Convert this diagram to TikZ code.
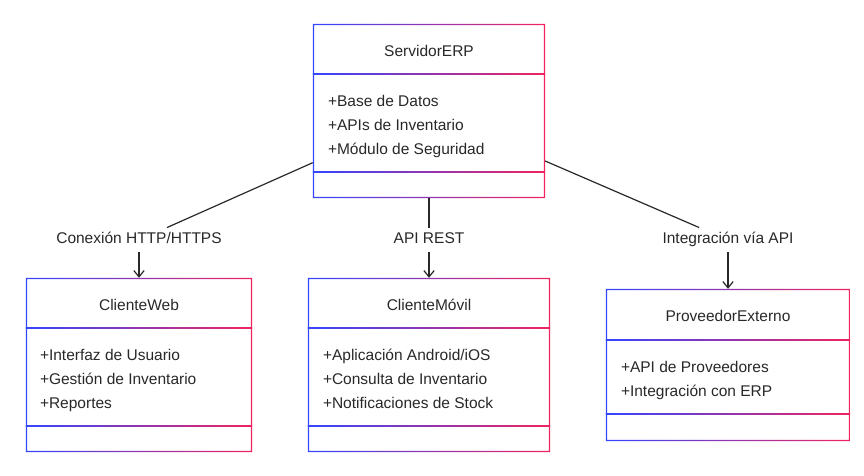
\documentclass[tikz,border=0pt]{standalone}
\usepackage{fontspec}
\setmainfont{Liberation Sans}
\usepackage{tikz}
\usetikzlibrary{arrows.meta,positioning,calc}
\definecolor{cBlue}{RGB}{51,70,255}
\definecolor{cRed}{RGB}{240,36,96}
\definecolor{cInk}{RGB}{40,40,40}
\tikzset{
  cls/.style={inner sep=0pt, minimum height=174pt},
  gframe/.style={left color=cBlue, right color=cRed, even odd rule},
  ctitle/.style={font=\fontsize{15.5}{18}\selectfont, text=cInk,
                 text height=11pt, text depth=3.5pt, inner sep=0pt},
  attr/.style={ctitle, inner ysep=4.5pt, anchor=west},
  elbl/.style={ctitle, inner xsep=1pt, inner ysep=5pt},
  link/.style={draw=cInk, line width=1.2pt},
  arr/.style={link, -{Straight Barb[length=2.2mm,width=3.6mm]}},
}

\begin{document}
\begin{tikzpicture}[x=1pt,y=1pt]
  \useasboundingbox (0,0) rectangle (864,-476);
  % class boxes
  \node[cls, minimum width=232pt] (srv) at (429,-111) {};
  \node[cls, minimum width=226pt] (web) at (139,-365) {};
  \node[cls, minimum width=242pt] (mov) at (429,-365) {};
  \node[cls, minimum width=244pt, minimum height=152pt] (ext) at (728,-365) {};
  % gradient frames, header and member separators
  \foreach \b/\hs/\cs in {srv/50/26, web/50/26, mov/50/26, ext/51/27} {
    \shade[gframe] (\b.south west) rectangle (\b.north east)
      ($(\b.south west)+(1.4,1.4)$) rectangle ($(\b.north east)+(-1.4,-1.4)$);
    \shade[gframe] ($(\b.north west)+(0,-\hs+0.7)$) rectangle ($(\b.north east)+(0,-\hs-0.7)$);
    \shade[gframe] ($(\b.south west)+(0,\cs+0.7)$) rectangle ($(\b.south east)+(0,\cs-0.7)$);
  }
  % ServidorERP
  \node[ctitle] (srv-t) at ($(srv.north)+(0,-28.5)$) {ServidorERP};
  \node[attr] (srv-a1) at ($(srv.north west)+(15,-79)$) {+Base de Datos};
  \node[attr, below=0pt of srv-a1.south west, anchor=north west] (srv-a2) {+APIs de Inventario};
  \node[attr, below=0pt of srv-a2.south west, anchor=north west] (srv-a3) {+Módulo de Seguridad};
  % ClienteWeb
  \node[ctitle] (web-t) at ($(web.north)+(0,-28.5)$) {ClienteWeb};
  \node[attr] (web-a1) at ($(web.north west)+(14,-79)$) {+Interfaz de Usuario};
  \node[attr, below=0pt of web-a1.south west, anchor=north west] (web-a2) {+Gestión de Inventario};
  \node[attr, below=0pt of web-a2.south west, anchor=north west] (web-a3) {+Reportes};
  % ClienteMovil
  \node[ctitle] (mov-t) at ($(mov.north)+(0,-28.5)$) {ClienteMóvil};
  \node[attr] (mov-a1) at ($(mov.north west)+(15,-79)$) {+Aplicación Android/iOS};
  \node[attr, below=0pt of mov-a1.south west, anchor=north west] (mov-a2) {+Consulta de Inventario};
  \node[attr, below=0pt of mov-a2.south west, anchor=north west] (mov-a3) {+Notificaciones de Stock};
  % ProveedorExterno
  \node[ctitle] (ext-t) at ($(ext.north)+(0,-29)$) {ProveedorExterno};
  \node[attr] (ext-a1) at ($(ext.north west)+(15,-80)$) {+API de Proveedores};
  \node[attr, below=0pt of ext-a1.south west, anchor=north west] (ext-a2) {+Integración con ERP};
  % edge labels
  \node[elbl] (l-web) at (139,-240) {Conexión HTTP/HTTPS};
  \node[elbl] (l-mov) at (429,-240) {API REST};
  \node[elbl] (l-ext) at (728,-240) {Integración vía API};
  % connectors
  \draw[link] (srv) -- (l-web);
  \draw[arr] (l-web) -- (web);
  \draw[link] (srv) -- (l-mov);
  \draw[arr] (l-mov) -- (mov);
  \draw[link] (srv) -- (l-ext);
  \draw[arr] (l-ext) -- (ext);
\end{tikzpicture}
\end{document}
